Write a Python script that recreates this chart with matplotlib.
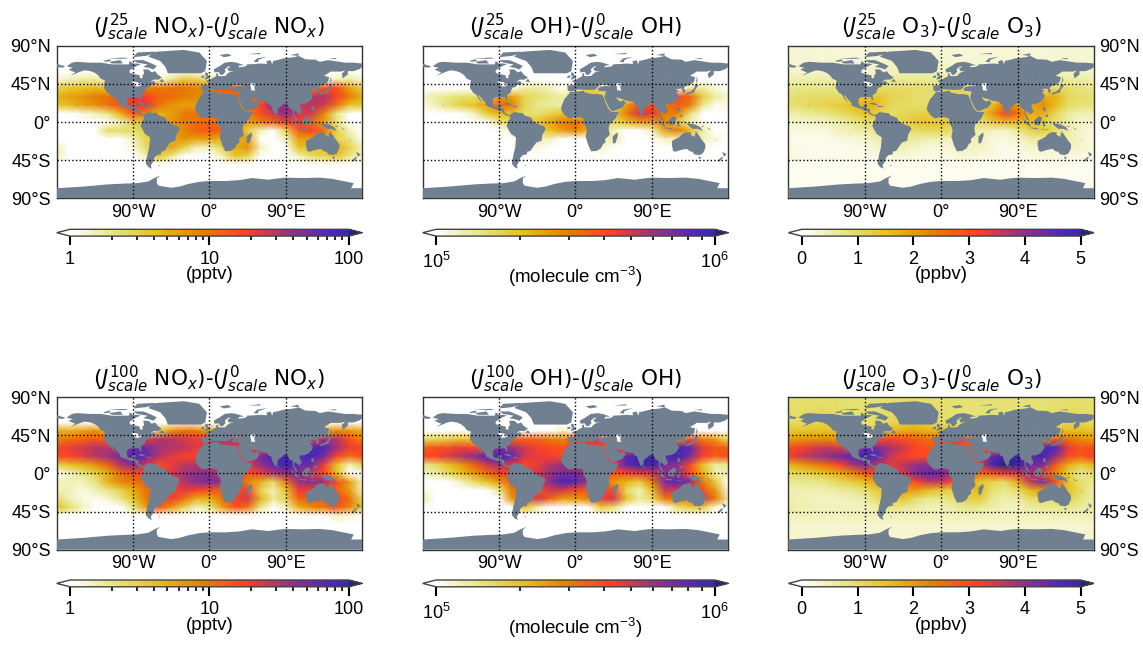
import numpy as np
import matplotlib
matplotlib.use("Agg")
import matplotlib.pyplot as plt
from matplotlib.colors import LinearSegmentedColormap, LogNorm, Normalize
from matplotlib.ticker import FixedLocator, NullFormatter

plt.rcParams['font.family'] = ['Liberation Sans', 'DejaVu Sans']
plt.rcParams['mathtext.fontset'] = 'dejavusans'
plt.rcParams['mathtext.rm'] = 'Liberation Sans'
plt.rcParams['mathtext.it'] = 'Liberation Sans:italic'
plt.rcParams['mathtext.bf'] = 'Liberation Sans:bold'

# grid nodes of the fields
lons = [-180, -165, -150, -135, -120, -105, -90, -75, -60, -45, -30, -15, 0, 15, 30, 45, 60, 75, 90, 105, 120, 135, 150, 165]
lats = [90, 60, 50, 40, 30, 20, 10, 0, -10, -20, -30, -40, -50, -60, -90]

# pptv
nox_25 = [
    [.5]*24,
    [.5]*24,
    [1.3, 1.5, 1.8, 1.8, 1.5, .5, .5, .5, 1.2, 2, 3.5, 3, 2, 1, 1, .5, .5, .5, .5, .5, .5, 1, 1.5, 1.8],
    [3, 3.5, 4, 4.5, 4, 4, 6, 8, 9, 10, 10, 8, 10, 15, 15, 10, 5, 5, 5, 5, 8, 15, 15, 6],
    [5, 6, 7, 9, 10, 12, 20, 18, 12, 11, 9, 8, 8, 9, 10, 10, 10, 10, 15, 20, 30, 30, 18, 9],
    [3.5, 4.5, 6, 7, 10, 15, 22, 22, 10, 7, 6, 6, 5, 5, 5, 10, 18, 45, 40, 25, 30, 25, 10, 4],
    [.8, .9, 1.2, 1.5, 2, 5, 15, 8, 5, 6, 9, 10, 10, 8, 6, 8, 15, 25, 45, 25, 25, 8, 2, .9],
    [.5, .5, .5, .7, 1, 1.5, 3, 4, 5, 7, 9, 10, 12, 10, 8, 6, 8, 12, 18, 20, 10, 6, 2, .8],
    [.5, .5, .5, 1, 2.5, 2.5, 2.5, 3, 4, 6, 8, 12, 14, 12, 8, 3, 1.5, .7, 3, 13, 18, 10, 3, 1.5],
    [.5, .5, .5, .5, .6, 1, 1.5, 3, 3, 5, 7, 6, 6, 5, 5, 6, 1, .5, 1.5, 6, 6, 5, 3, 2],
    [1.5, .5, .5, .5, .5, .5, 1.2, 2.5, 3, 6, 3, 1.5, 1.5, 3, 5, 7, 1.5, .5, 1, 4, 4, 4, 5, 3],
    [1.5, .5, .5, .5, .5, .5, .5, 1.5, 4, 2, .8, .5, .5, 1.5, 4, 3, .6, .5, .5, 1.5, 2.5, 3, 4, 2],
    [.5, .5, .5, .5, .5, .5, .5, .5, .5, .5, .5, .5, .5, .5, .5, .5, .5, .5, .5, .5, .5, .5, 1, .5],
    [.5]*24,
    [.5]*24,
]
nox_100 = [
    [.5]*24,
    [.5]*24,
    [5, 5, 6, 7, 5, 3, .5, 1, 3, 7, 10, 9, 6, 2, 2, .5, .5, .5, .5, .5, .5, 4, 8, 7],
    [8, 10, 12, 14, 12, 10, 15, 22, 30, 30, 25, 20, 25, 35, 35, 20, 10, 10, 10, 10, 20, 35, 30, 15],
    [18, 20, 25, 30, 30, 30, 60, 50, 35, 30, 28, 22, 20, 20, 20, 20, 20, 25, 40, 60, 80, 70, 35, 20],
    [15, 18, 22, 28, 35, 50, 70, 60, 30, 22, 18, 18, 15, 15, 15, 25, 50, 90, 90, 70, 80, 50, 18, 10],
    [3, 4, 5, 7, 12, 30, 45, 25, 15, 20, 28, 30, 30, 20, 15, 22, 40, 60, 90, 60, 55, 20, 4, 1.5],
    [1, 1.5, 2, 3, 5, 10, 15, 18, 20, 25, 35, 40, 40, 30, 20, 15, 20, 30, 40, 45, 25, 15, 4, .8],
    [1.5, 1.5, 1.5, 2, 5, 8, 10, 12, 15, 20, 30, 45, 50, 40, 18, 8, 5, 2.5, 10, 35, 45, 35, 15, 6],
    [1.5, 1.5, 1.2, 1.5, 2, 3, 5, 10, 12, 18, 22, 18, 15, 12, 15, 18, 3, 1.5, 4, 20, 20, 15, 12, 6],
    [2.5, 1.5, 1.2, 1.1, 1.3, 2, 4, 9, 12, 20, 10, 5, 5, 10, 18, 25, 5, 1.8, 3, 12, 12, 12, 18, 10],
    [4, 2.5, 1.5, 1, 1, 1, 2, 6, 14, 7, 3, 1.5, 2, 6, 14, 10, 2, .8, 1.5, 5, 8, 10, 14, 8],
    [.7, .5, .5, .5, .5, .5, .5, .5, 1, .7, .5, .5, .5, .5, .7, .5, .5, .5, .5, .5, .7, .8, 1.5, 1.2],
    [.5]*24,
    [.5]*24,
]
# 10^5 molecule cm-3
oh_25 = [
    [.8]*24,
    [.8]*24,
    [.8]*24,
    [.8, .8, .8, .8, .8, .8, .8, 1, 1.3, 1.3, 1.2, 1, 1.2, 1.8, 1.5, .8, .8, .8, .8, .8, .8, 1.3, 1.3, 1.1],
    [1.15, 1.3, 1.4, 1.5, 1.5, 1.6, 2.6, 2.4, 1.7, 1.5, 1.4, 1.3, 1.5, 2, 2, 1.5, 1.4, 1.4, 1.8, 2.5, 3.8, 3.5, 1.8, 1.3],
    [1.1, 1.25, 1.5, 1.8, 2, 2.4, 3.5, 3, 1.7, 1.4, 1.3, 1.3, 1.2, 1.2, 1.2, 1.5, 2.5, 4, 4, 3, 3.6, 3, 1.4, 1.05],
    [.8, .8, .9, 1, 1.2, 1.8, 2.2, 2, 1.5, 1.5, 1.7, 1.9, 1.8, 1.6, 1.5, 1.8, 3, 5, 4.5, 3, 3, 1.5, .9, .8],
    [.8, .8, .8, .8, .8, 1, 1.4, 1.6, 1.7, 2, 2.4, 3, 3.2, 2.5, 1.8, 1.6, 2, 2.5, 2.5, 2.8, 1.8, 1.2, .9, .8],
    [.8, .8, .8, .8, .8, .8, 1, 1.2, 1.3, 1.7, 2, 2.5, 2.8, 2.2, 1.5, 1.2, .9, .8, 1.2, 2.4, 3, 2.2, 1.3, 1],
    [.8, .8, .8, .8, .8, .8, .8, 1, 1, 1.3, 1.2, 1, .8, .8, 1.1, 1.3, .8, .8, .8, 1.2, 1.2, 1.2, 1.2, 1.1],
    [.8, .8, .8, .8, .8, .8, .8, .8, .8, 1.1, .8, .8, .8, .8, 1.2, 1, .8, .8, .8, .8, .8, .8, 1.05, .8],
    [.8]*24,
    [.8]*24,
    [.8]*24,
    [.8]*24,
]
oh_100 = [
    [.8]*24,
    [.8]*24,
    [.8, .8, .8, .8, .8, .8, .8, .8, .8, .8, .8, 1.2, .8, .8, .8, .8, .8, .8, .8, .8, .8, .8, .8, .8],
    [1.6, 1.7, 1.8, 2, 2, 2, 3, 3.5, 3.5, 3.5, 3, 2.8, 4, 5, 5, 3, 2, 2, 2, 2, 2.5, 4, 3, 2.5],
    [3.5, 3.8, 4, 4.5, 4.2, 4, 7, 6, 5, 4.3, 4, 3.8, 4, 4, 4, 4, 4, 4, 6, 8, 9, 8, 4.5, 3.8],
    [4, 4.2, 4.8, 5.5, 6.5, 8, 9, 8, 5, 4.5, 4.3, 4, 3.5, 3.5, 4, 5, 8, 10, 10, 9, 9.5, 7, 4.3, 3.5],
    [1.4, 1.6, 2, 2.5, 3.5, 5, 6, 4.5, 4, 4.5, 5.5, 6, 5.5, 4.5, 4, 5, 8, 10, 9.5, 7, 6.5, 4, 2, 1.3],
    [1.2, 1.3, 1.6, 2, 2.5, 3.2, 4, 4.5, 4.5, 5, 6, 7, 7, 6, 4.5, 3.8, 4, 4.5, 5, 6, 6, 4, 2.2, 1.3],
    [.8, .9, 1, 1.2, 1.6, 2, 2.6, 3.5, 3.5, 4.5, 6.5, 9, 8, 6, 3.8, 2.5, 2.2, 1.8, 3, 7, 8.5, 6.5, 3, 1.8],
    [1.1, .8, .8, .8, .9, 1, 1.4, 3, 3, 3.8, 5, 5, 4, 3.5, 4, 4, 1.6, 1.2, 2, 5, 5, 3.5, 4, 2.5],
    [1.3, .8, .8, .8, .8, .8, 1, 2.6, 3, 5, 3.5, 2.5, 2.5, 3, 4.5, 5, 2, 1.3, 1.6, 3, 3, 3, 5, 3],
    [.8, .8, .8, .8, .8, .8, .8, .8, 2, 1.3, .8, .8, .8, .8, 1.8, 1.5, .8, .8, .8, 1, 1.5, 1.8, 1.8, 1.1],
    [.8]*24,
    [.8]*24,
    [.8]*24,
]
# ppbv
o3_25 = [
    [.25]*24,
    [.35, .35, .35, .35, .3, .3, .3, .35, .4, .45, .5, .45, .4, .3, .3, .3, .3, .3, .3, .3, .3, .35, .35, .35],
    [.5, .5, .55, .55, .5, .4, .4, .5, .6, .7, .7, .65, .6, .5, .45, .4, .4, .4, .4, .4, .45, .55, .6, .55],
    [.7, .75, .75, .75, .7, .7, .9, 1, 1, 1, 1, .9, 1, 1.2, 1.1, .9, .7, .7, .7, .7, .9, 1, .95, .8],
    [.9, .95, 1, 1, 1, 1, 1.5, 1.4, 1.2, 1.1, 1, .95, 1, 1, 1, 1, .9, .9, 1.1, 1.3, 1.8, 1.7, 1.1, .95],
    [.9, 1, 1.1, 1.2, 1.3, 1.5, 1.8, 1.6, 1.1, 1, .95, 1, 1, 1, 1, 1.1, 1.5, 2.4, 2, 1.7, 2.2, 1.6, 1, .85],
    [.5, .6, .7, .8, 1, 1.2, 1.5, 1.2, 1, 1.1, 1.2, 1.2, 1.2, 1.1, 1, 1.2, 2, 3.1, 2.6, 1.8, 1.8, 1.1, .6, .45],
    [.3, .3, .35, .4, .5, .7, .9, 1, 1.1, 1.2, 1.4, 1.5, 1.4, 1.2, 1, 1, 1.3, 1.6, 1.6, 1.6, 1.2, .9, .5, .3],
    [.2, .2, .2, .25, .4, .5, .6, .7, .8, .9, 1, 1.1, 1.1, .9, .7, .5, .4, .35, .7, 1.2, 1.3, 1, .5, .35],
    [.15, .15, .15, .15, .2, .25, .3, .5, .6, .6, .6, .5, .5, .4, .45, .45, .25, .2, .3, .6, .6, .6, .5, .35],
    [.2, .15, .15, .15, .15, .15, .2, .3, .4, .5, .35, .25, .25, .3, .35, .4, .2, .15, .2, .3, .35, .35, .4, .3],
    [.2, .2, .15, .15, .15, .15, .15, .2, .25, .25, .2, .2, .2, .2, .3, .25, .2, .15, .15, .2, .2, .25, .25, .2],
    [.12]*24,
    [.1]*24,
    [.1]*24,
]
o3_100 = [
    [.9]*24,
    [1, 1.05, 1.1, 1.2, 1, .9, .9, 1, 1.1, 1.2, 1.4, 1.2, 1, .9, .85, .85, .85, .85, .85, .85, .85, 1, 1.1, 1.1],
    [1.4, 1.4, 1.5, 1.5, 1.4, 1.2, 1.1, 1.3, 1.6, 1.8, 1.9, 1.7, 1.6, 1.3, 1.1, 1, 1, 1, 1, 1, 1.2, 1.4, 1.6, 1.6],
    [2, 2.1, 2.2, 2.2, 2.1, 2.1, 2.5, 3, 3.2, 3, 2.8, 2.6, 3, 3.5, 3.2, 2.4, 1.8, 1.8, 1.8, 1.8, 2.2, 2.8, 2.5, 2.2],
    [3, 3.2, 3.4, 3.6, 3.4, 3.4, 4.5, 4.2, 3.8, 3.5, 3.1, 2.9, 2.8, 2.8, 2.8, 2.8, 2.7, 2.7, 3, 3.8, 4.8, 4.6, 3.3, 2.9],
    [3.2, 3.5, 3.8, 4, 4.3, 4.5, 4.9, 4.6, 3.6, 3.2, 3, 3, 2.8, 2.8, 2.8, 3.2, 4.5, 5, 5, 4.5, 4.9, 4, 3, 2.8],
    [1.7, 2, 2.3, 2.6, 3.1, 3.8, 4.2, 3.6, 3.3, 3.6, 4, 4, 3.8, 3.2, 2.8, 3.4, 4.8, 5.1, 5, 4.4, 4.2, 2.8, 1.8, 1.3],
    [1, 1.1, 1.3, 1.5, 1.8, 2.2, 2.8, 3, 3.2, 3.5, 4.2, 4.5, 4.4, 3.8, 2.8, 2.6, 2.9, 3.2, 3.5, 3.8, 3, 2.2, 1.2, .7],
    [.7, .7, .7, .8, 1.1, 1.3, 1.6, 2, 2.2, 2.6, 3.1, 3.6, 3.5, 3, 2, 1.4, 1.2, 1, 1.9, 3.6, 4.2, 3, 1.4, .9],
    [.5, .5, .5, .5, .6, .7, .9, 1.3, 1.6, 1.9, 2, 1.6, 1.4, 1.2, 1.4, 1.6, .9, .7, 1, 1.7, 2, 1.7, 1.5, 1],
    [.5, .45, .4, .4, .4, .45, .55, 1, 1.2, 1.4, 1, .7, .7, .9, 1.2, 1.3, .7, .5, .6, 1, 1, 1, 1.2, .8],
    [.55, .5, .45, .4, .4, .4, .4, .6, .8, .7, .55, .45, .45, .55, .75, .7, .5, .4, .4, .6, .65, .7, .7, .6],
    [.45]*24,
    [.3]*24,
    [.3]*24,
]

# coastlines, lon/lat
north_america = [(-168, 66), (-162, 70), (-156, 71), (-141, 70), (-128, 70), (-115, 68), (-108, 68), (-95, 68), (-94, 72), (-90, 69), (-85, 69), (-81, 68), (-86, 66), (-94, 61), (-94, 58), (-88, 56.5), (-82, 55), (-82, 52), (-79, 51.5), (-79, 55), (-77, 57), (-78, 62), (-72, 62), (-68, 58.5), (-64, 60), (-61, 56), (-56, 52.5), (-60, 50), (-66, 50), (-70, 47), (-65, 48.5), (-64, 46), (-61, 46), (-66, 44), (-70, 43.5), (-70, 41.5), (-74, 40.5), (-76, 37), (-76, 35), (-81, 31.5), (-80, 27), (-80.5, 25), (-82, 27), (-83, 29.5), (-85, 29.7), (-90, 29.5), (-94, 29.5), (-97, 27.5), (-97.5, 23), (-96, 19), (-94, 18), (-91, 18.7), (-90.5, 21), (-87, 21.5), (-88, 16), (-84, 15.5), (-83.5, 11), (-80, 9), (-77.5, 8.5), (-78, 7.5), (-81, 7.5), (-85, 10), (-87.5, 13), (-92, 14.5), (-96, 16), (-102, 18), (-105.5, 20), (-106, 23), (-110, 27), (-113, 31), (-114.8, 31.5), (-112, 27), (-110, 23), (-112, 25), (-115, 29), (-117, 32.5), (-120.5, 34.5), (-122, 37), (-124.3, 40), (-124, 46), (-123, 49), (-128, 51), (-131, 55), (-135, 58), (-140, 60), (-147, 61), (-152, 59.5), (-158, 57), (-164, 54.5), (-158, 58.5), (-162, 60), (-166, 62), (-161, 64), (-166, 65)]
south_america = [(-77.5, 8.5), (-72, 12), (-68, 11), (-62, 10.5), (-60, 8), (-52, 5), (-50, 1), (-44, -2.5), (-37, -5), (-35, -8), (-39, -15), (-40, -22), (-46, -24), (-49, -28), (-53, -34), (-57, -35), (-57, -38), (-62, -39), (-65, -42), (-66, -46), (-69, -51), (-68, -55), (-72, -53), (-75, -49), (-73, -38), (-71, -30), (-70, -18), (-76, -14), (-81, -5), (-80, 0), (-77, 4), (-78, 7.5)]
eurasia = [(-9, 37), (-9.5, 43), (-2, 43.5), (-1, 46), (-4.5, 48.5), (1, 50), (4, 52), (8, 54), (8, 57), (10.5, 57.5), (10, 54.5), (14, 54), (19, 54.5), (21, 57), (24, 59), (29, 60), (23, 60), (21, 63), (25, 65.5), (22, 65.5), (18, 62), (19, 59.5), (16, 56), (13, 55.5), (11, 59), (6, 58.5), (5, 62), (12, 66), (18, 70), (26, 71), (32, 70), (41, 67), (35, 66.5), (34, 64.5), (40, 65), (44, 66.5), (44, 68), (54, 68.5), (60, 69), (68, 68.5), (67, 71.5), (72, 73), (74, 68), (75, 72), (82, 73.5), (87, 75), (100, 76.5), (105, 78), (113, 74), (125, 73.5), (130, 71), (140, 73), (150, 71.5), (160, 70), (170, 70), (180, 69), (180, 65), (177, 62.5), (170, 60), (163, 60), (163, 56), (157, 51.5), (156, 57), (160, 61), (155, 59.5), (143, 59.5), (135, 54.5), (141, 53), (140, 48), (135, 43.5), (130, 42.5), (127.5, 40), (129.5, 37), (129, 35), (126.5, 34.5), (126, 37.5), (125, 39.5), (121, 39), (118, 39), (120.5, 37.5), (122, 37), (119, 35), (122, 31), (121, 28), (117, 23.5), (111, 21), (108, 21.5), (106, 19), (109, 13), (106, 9), (105, 10), (100, 13.5), (99.5, 9), (103, 4), (104, 1.5), (101, 3), (98.5, 8), (98, 15), (94.5, 16), (92, 21.5), (88, 22), (86, 20), (80.5, 15.5), (80, 10.5), (77.5, 8), (74, 15), (72.5, 20), (70, 21), (68, 24), (61, 25), (57, 26), (56.5, 27), (51, 28), (48, 30), (50, 26), (51.5, 25), (54, 24), (56, 26), (59.5, 22.5), (55, 17), (45, 13), (43, 12.8), (39.3, 17), (37, 22), (34.3, 28), (34.5, 31.5), (36, 36), (31, 36.5), (27, 37), (26.5, 39.5), (29, 41.5), (35, 42.5), (41.5, 42), (38, 43.5), (33, 44), (31, 44.5), (28, 43), (26, 41), (24, 38.5), (20, 38), (15, 38), (10, 38), (3, 38.5), (0, 37.5), (-2, 36.7), (-5.5, 36)]
chukotka = [(-180, 69), (-175, 67), (-170, 66), (-173, 64), (-180, 65)]
africa = [(-6, 35.5), (-1, 35.5), (10, 37), (11, 35), (15, 34), (20, 33), (25, 33), (32, 32), (33.5, 28), (36, 22), (38.5, 16), (42.5, 12), (51, 12), (47, 4), (40, -3), (39, -8), (40.5, -15), (35, -20), (35.5, -24), (32.5, -26), (30, -31), (25, -34), (18.5, -34.5), (15, -27), (12, -17), (13.5, -10), (12, -5), (9, -1), (9.5, 4), (5, 5.5), (1, 6), (-4, 5), (-8, 4.5), (-13, 8.5), (-17, 14.5), (-16, 20), (-13, 27), (-9.5, 31)]
australia = [(114, -22), (122, -18), (126, -14), (130, -12), (136, -12), (136, -15), (140, -17.5), (142, -11), (145, -15), (149, -21), (153, -26), (153, -31), (150, -37), (146, -39), (140, -38), (138, -35), (135, -34.5), (131, -31.5), (124, -33), (118, -35), (115, -34), (113.5, -26)]
antarctica = [(-180, -78), (-148, -76), (-120, -73.5), (-100, -72.5), (-85, -72), (-72, -70), (-65, -66), (-58, -63), (-62, -66.5), (-62, -72), (-60, -75), (-45, -77.5), (-35, -76), (-25, -73), (-12, -70.5), (0, -69.5), (20, -69.5), (35, -68.5), (50, -66), (70, -68), (80, -66.5), (90, -65.5), (110, -66), (130, -65.5), (145, -67), (160, -70), (170, -72), (167, -78), (180, -78), (180, -90), (-180, -90)]
islands = [
    [(-70, 79), (-62, 83), (-30, 85), (-12, 82), (-3, 72), (-5, 60), (-10, 57.5), (-49, 57.5), (-52, 65), (-58, 72), (-72, 77)],
    [(-90, 76.5), (-85, 82), (-65, 83), (-62, 81.5), (-75, 78)],
    [(-90, 73), (-78, 73), (-68, 69), (-62, 66), (-66, 62), (-72, 64), (-78, 65), (-73, 68), (-85, 70)],
    [(-118, 71), (-105, 73), (-102, 69), (-115, 69)],
    [(-125, 72), (-118, 74), (-116, 72), (-123, 71)],
    [(-120, 75), (-100, 76), (-95, 75), (-105, 74.5)],
    [(-59, 48), (-56, 51), (-53, 47)],
    [(-5.5, 50), (1, 51.5), (0, 53.5), (-2, 56), (-2, 58), (-5, 58.5), (-5, 55), (-3, 54), (-5, 52)],
    [(-10, 52), (-6, 52.5), (-6, 55), (-9, 54.5)],
    [(12, 79), (22, 80.5), (26, 78), (17, 76.5)],
    [(45, 80), (60, 81.5), (60, 80)],
    [(52, 71), (56, 75), (68, 77), (58, 73.5), (57, 70.5)],
    [(95, 79), (105, 81), (105, 78)],
    [(140, 75), (150, 75.5), (148, 74)],
    [(142, 46), (143, 54), (144, 49)],
    [(130, 32), (131, 34.5), (136, 36), (140, 40), (141, 45), (145, 43.5), (141, 38), (140, 35), (135, 33.5)],
    [(120, 14), (120.5, 18.5), (122, 18), (124, 13)],
    [(122, 7), (126, 9.5), (126, 6), (123, 6.5)],
    [(109, 1), (115, 7), (119, 5), (118, 1), (116, -4), (110, -3)],
    [(95, 5.5), (104, -2), (106, -6), (101, -3)],
    [(105, -6.5), (114, -7), (114, -8.5), (106, -7.5)],
    [(116, -8.5), (123, -8), (123, -9)],
    [(124, -9), (127, -8.5), (124, -10)],
    [(120, 1), (125, 1), (122, -1), (123, -5), (120, -5)],
    [(127, 2), (129, 0), (128, -1)],
    [(128, -3), (130, -3), (129, -3.5)],
    [(131, -1), (141, -3), (147, -6), (150, -10.5), (144, -8), (138, -8), (133, -4)],
    [(148, -5), (152, -4), (150, -6)],
    [(173, -35), (178, -38), (175, -41), (174, -38)],
    [(172.5, -41), (174, -42), (170, -46.5), (167, -46)],
    [(144.5, -41), (148, -41), (147, -43.5), (146, -43.5)],
    [(49.5, -12), (50, -16), (47, -25), (44, -25), (44, -17)],
    [(80, 9.5), (82, 7), (80.5, 6)],
    [(-85, 22), (-80, 23), (-74, 20), (-78, 20)],
    [(-74, 19.5), (-69, 19.5), (-69, 18), (-74, 18)],
    [(120, 22), (122, 25), (121, 22)],
    [(109, 18), (111, 20), (110, 18)],
    [(-157, 19), (-155, 20), (-155, 19)],
    [(155, -6), (160, -9), (158, -9)],
    [(164, -20), (167, -22), (166, -22)],
    [(-61, -51), (-58, -51), (-59, -52)],
]
lakes = [
    [(47, 45), (53, 46), (53, 40), (54, 37), (49, 37.5), (49, 41)],
    [(-92, 48), (-85, 47), (-80, 44), (-83, 42), (-87, 42)],
    [(104, 51.5), (110, 55.5), (109, 55)],
]

# panels, left to right and row by row
titles = ['($J^{25}_{scale}$ NO$_x$)-($J^{0}_{scale}$ NO$_x$)', '($J^{25}_{scale}$ OH)-($J^{0}_{scale}$ OH)', '($J^{25}_{scale}$ O$_3$)-($J^{0}_{scale}$ O$_3$)',
          '($J^{100}_{scale}$ NO$_x$)-($J^{0}_{scale}$ NO$_x$)', '($J^{100}_{scale}$ OH)-($J^{0}_{scale}$ OH)', '($J^{100}_{scale}$ O$_3$)-($J^{0}_{scale}$ O$_3$)']
fields = [nox_25, oh_25, o3_25, nox_100, oh_100, o3_100]
scales = [1, 1e5, 1, 1, 1e5, 1]
units = ['(pptv)', '(molecule cm$^{-3}$)', '(ppbv)']
unit_pads = [-1, -5, -1]
cbar_label_pads = [4, 5, 4]

base = plt.get_cmap('CMRmap_r')
cmap = LinearSegmentedColormap.from_list('cmr_cut', base(np.linspace(0, 0.8, 256)))
cmap.set_under('white')
cmap.set_over(base(0.88))
norms = [LogNorm(1, 100), LogNorm(1e5, 1e6), Normalize(0, 5)]

W, H = 1143, 645
left_px = [56.7, 422.7, 788.4]
top_px = [45.7, 397]
cbar_top_px = [229.3, 580]
map_w, map_h, cbar_h = 305.5, 152.7, 6.8

lon_nodes = np.array(lons + [180])
fig = plt.figure(figsize=(W/100, H/100), dpi=100)

for i in range(6):
    row, col = i//3, i % 3
    ax = fig.add_axes([left_px[col]/W, 1-(top_px[row]+map_h)/H, map_w/W, map_h/H])
    vals = np.array(fields[i], dtype=float)*scales[i]
    vals = np.c_[vals, vals[:, 0]]
    mesh = ax.pcolormesh(lon_nodes, lats, vals, cmap=cmap, norm=norms[col], shading='gouraud')

    for poly in [north_america, south_america, eurasia, chukotka, africa, australia, antarctica] + islands:
        ax.fill(*zip(*poly), color='#708090', lw=0, zorder=3)
    for poly in lakes:
        ax.fill(*zip(*poly), color='white', lw=0, zorder=3)

    for x in [-90, 0, 90]:
        ax.axvline(x, color='k', ls=':', lw=1, zorder=4)
    for y in [-45, 0, 45]:
        ax.axhline(y, color='k', ls=':', lw=1, zorder=4)

    ax.set_xlim(-180, 180)
    ax.set_ylim(-90, 90)
    ax.set_xticks([-90, 0, 90])
    ax.set_xticklabels(['90°W', '0°', '90°E'], fontsize=13)
    ax.tick_params(length=0, pad=4)
    if col == 0 or col == 2:
        ax.set_yticks([-90, -45, 0, 45, 90])
        ax.set_yticklabels(['90°S', '45°S', '0°', '45°N', '90°N'], fontsize=13)
        if col == 2:
            ax.yaxis.tick_right()
    else:
        ax.set_yticks([])
    for s in ax.spines.values():
        s.set_color('#333333')
        s.set_linewidth(1)
    ax.set_title(titles[i], fontsize=15.5, family='DejaVu Sans', pad=8)

    cax = fig.add_axes([left_px[col]/W, 1-(cbar_top_px[row]+cbar_h)/H, map_w/W, cbar_h/H])
    cb = fig.colorbar(mesh, cax=cax, orientation='horizontal', extend='both', extendfrac=0.048)
    cb.outline.set_edgecolor('#444444')
    cb.outline.set_linewidth(1)
    cax.tick_params(which='major', length=6.5, width=1.5, labelsize=13, pad=cbar_label_pads[col])
    cax.tick_params(which='minor', length=3, width=1.2)
    if col == 0:
        cb.set_ticks([1, 10, 100])
        cb.set_ticklabels(['1', '10', '100'])
        cax.xaxis.set_minor_locator(FixedLocator([2, 3, 4, 5, 6, 7, 8, 9, 20, 30, 40, 50, 60, 70, 80, 90]))
    elif col == 1:
        cb.set_ticks([1e5, 1e6])
        cb.set_ticklabels(['$10^{5}$', '$10^{6}$'])
        cax.xaxis.set_minor_locator(FixedLocator([2e5, 3e5, 4e5, 5e5, 6e5, 7e5, 8e5, 9e5]))
        for lab in cax.get_xticklabels():
            lab.set_math_fontfamily('custom')
    else:
        cb.set_ticks([0, 1, 2, 3, 4, 5])
    cax.xaxis.set_minor_formatter(NullFormatter())
    cb.set_label(units[col], fontsize=13.5, labelpad=unit_pads[col], math_fontfamily='custom')

fig.savefig('out.png', dpi=100)
